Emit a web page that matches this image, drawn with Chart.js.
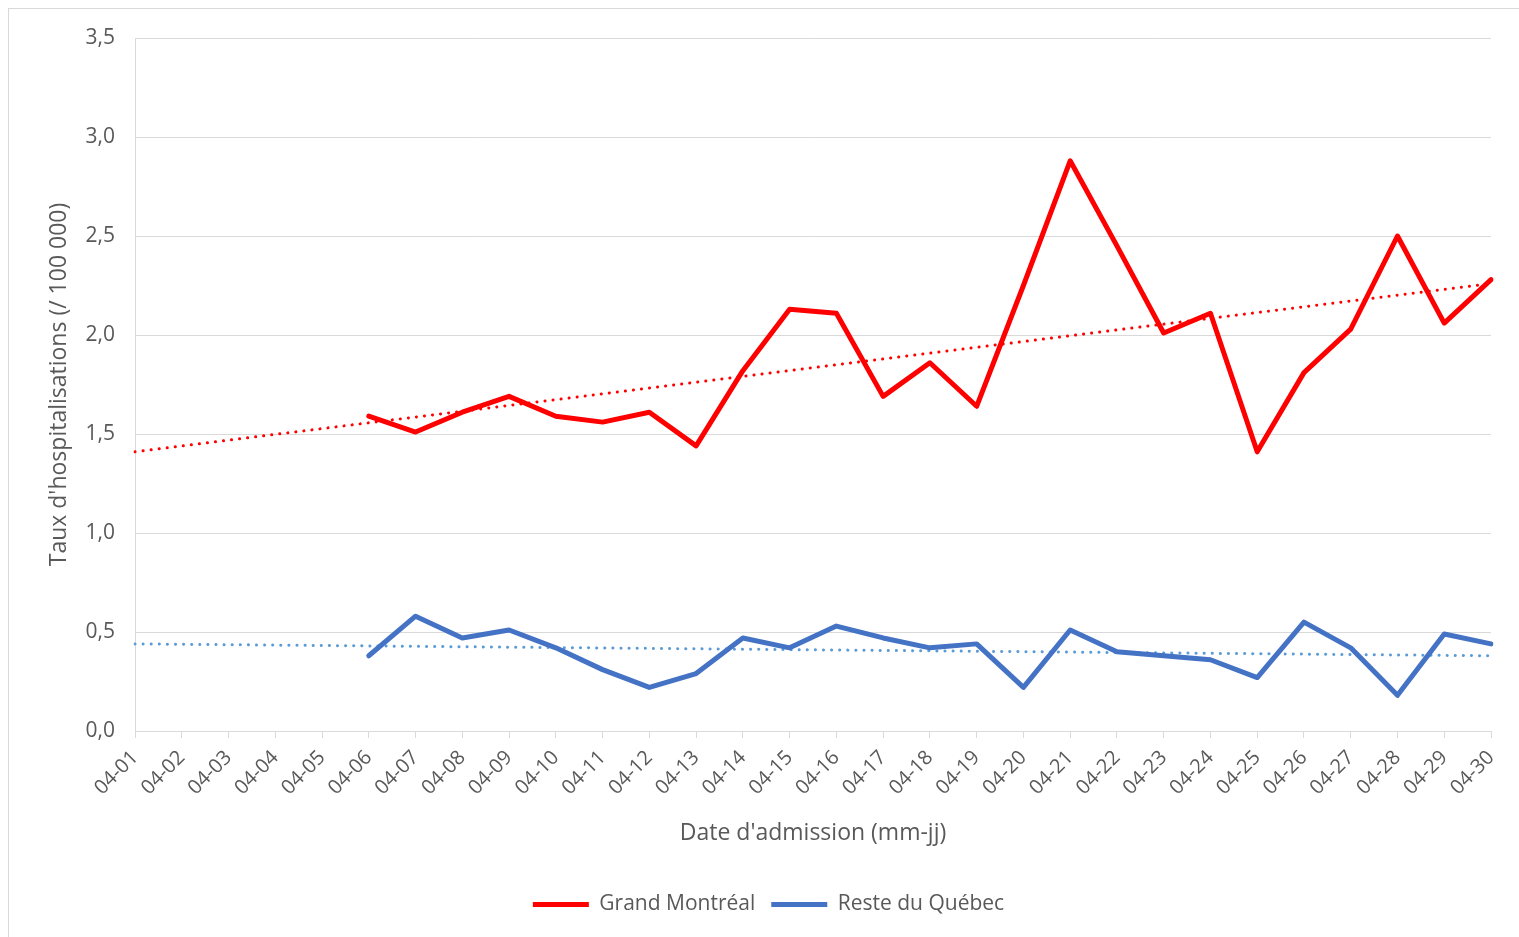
<!DOCTYPE html>
<html>
<head>
<meta charset="utf-8">
<script src="https://cdn.jsdelivr.net/npm/chart.js@4"></script>
<style>
  html, body { margin: 0; padding: 0; background: #fff; }
  #wrap { position: relative; width: 1519px; height: 937px; overflow: hidden; }
  #frame { position: absolute; left: 8px; top: 8px; width: 1600px; height: 1000px;
           border-left: 1px solid #d9d9d9; border-top: 1px solid #d9d9d9; pointer-events: none; }
  canvas { position: absolute; left: 0; top: 0; }
</style>
</head>
<body>
<div id="wrap">
  <canvas id="hospChart" width="1519" height="937"></canvas>
  <div id="frame"></div>
</div>
<script>
// Dates (mm-jj)
const dates = ["04-01", "04-02", "04-03", "04-04", "04-05", "04-06", "04-07", "04-08", "04-09", "04-10",
    "04-11", "04-12", "04-13", "04-14", "04-15", "04-16", "04-17", "04-18", "04-19", "04-20",
    "04-21", "04-22", "04-23", "04-24", "04-25", "04-26", "04-27", "04-28", "04-29", "04-30"];

// Taux d'hospitalisations (/ 100 000)
const grandMontreal = [null, null, null, null, null, 1.59, 1.51, 1.61, 1.69, 1.59,
    1.56, 1.61, 1.44, 1.82, 2.13, 2.11, 1.69, 1.86, 1.64, 2.25,
    2.88, 2.45, 2.01, 2.11, 1.41, 1.81, 2.03, 2.50, 2.06, 2.28];
const resteQuebec = [null, null, null, null, null, 0.38, 0.58, 0.47, 0.51, 0.42,
    0.31, 0.22, 0.29, 0.47, 0.42, 0.53, 0.47, 0.42, 0.44, 0.22,
    0.51, 0.40, 0.38, 0.36, 0.27, 0.55, 0.42, 0.18, 0.49, 0.44];

// Tendances linéaires (extrémités)
const trendMontreal = [1.41, ...Array(28).fill(null), 2.26];
const trendQuebec = [0.44, ...Array(28).fill(null), 0.38];

const yTicks = [0, 0.5, 1, 1.5, 2, 2.5, 3, 3.5];

const grey = '#595959';
const gridColor = '#d9d9d9';
const fontFamily = '"Open Sans", "Liberation Sans", sans-serif';

const chartData = {
    labels: dates,
    datasets: [
        {
            label: 'Grand Montréal',
            data: grandMontreal,
            borderColor: '#FF0000',
            backgroundColor: '#FF0000',
            borderWidth: 5,
            borderCapStyle: 'round',
            borderJoinStyle: 'round',
            pointRadius: 0,
            tension: 0,
            order: 1
        },
        {
            label: 'Reste du Québec',
            data: resteQuebec,
            borderColor: '#4472C4',
            backgroundColor: '#4472C4',
            borderWidth: 5,
            borderCapStyle: 'round',
            borderJoinStyle: 'round',
            pointRadius: 0,
            tension: 0,
            order: 2
        },
        {
            label: 'Linéaire (Grand Montréal)',
            data: trendMontreal,
            borderColor: '#FF0000',
            borderWidth: 3,
            borderDash: [0.1, 8],
            borderCapStyle: 'round',
            pointRadius: 0,
            spanGaps: true,
            order: 3
        },
        {
            label: 'Linéaire (Reste du Québec)',
            data: trendQuebec,
            borderColor: '#5B9BD5',
            borderWidth: 3,
            borderDash: [0.1, 8],
            borderCapStyle: 'round',
            pointRadius: 0,
            spanGaps: true,
            order: 4
        }
    ]
};

const chartOptions = {
    responsive: false,
    animation: false,
    layout: {
        padding: { left: 46, right: 28, top: 38, bottom: 12 }
    },
    plugins: {
        legend: {
            position: 'bottom',
            labels: {
                // seulement les deux séries, pas les tendances
                filter: (item) => item.datasetIndex < 2,
                usePointStyle: true,
                pointStyle: 'line',
                pointStyleWidth: 56,
                boxHeight: 5,
                color: grey,
                font: { family: fontFamily, size: 21 },
                padding: 16
            }
        },
        tooltip: { enabled: false }
    },
    scales: {
        x: {
            ticks: {
                color: grey,
                font: { family: fontFamily, size: 20 },
                minRotation: 45,
                maxRotation: 45,
                autoSkip: false,
                padding: 8
            },
            grid: {
                drawOnChartArea: false,
                drawTicks: true,
                tickLength: 7,
                color: gridColor
            },
            border: { color: gridColor, width: 1 },
            title: {
                display: true,
                text: "Date d'admission (mm-jj)",
                color: grey,
                font: { family: fontFamily, size: 23 },
                padding: { top: 10, bottom: 31 }
            },
            afterFit: (scale) => { scale.height = 147; }
        },
        y: {
            min: 0,
            max: 3.5,
            afterBuildTicks: (scale) => {
                scale.ticks = yTicks.map(v => ({ value: v }));
            },
            ticks: {
                color: grey,
                font: { family: fontFamily, size: 21 },
                padding: 20,
                callback: (value) => value.toFixed(1).replace('.', ',')
            },
            grid: {
                color: gridColor,
                drawTicks: false
            },
            border: { color: gridColor, width: 1 },
            title: {
                display: true,
                text: "Taux d'hospitalisations (/ 100 000)",
                color: grey,
                font: { family: fontFamily, size: 23 },
                padding: { top: 0, bottom: 0 }
            },
            afterFit: (scale) => { scale.width = 135 - 46; }
        }
    }
};

const hospChart = document.getElementById("hospChart");
if (hospChart) {
    new Chart(hospChart, {
        type: 'line',
        data: chartData,
        options: chartOptions
    });
}
</script>
</body>
</html>
